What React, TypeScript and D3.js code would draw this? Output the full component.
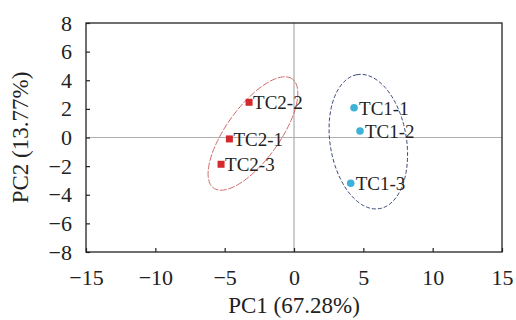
import * as d3 from 'd3'
import { useRef, useEffect } from 'react'

// sample scores (PC1, PC2)
const tc2Names = ['TC2-1', 'TC2-2', 'TC2-3'];
const tc2PC1 = [-4.66, -3.24, -5.26];
const tc2PC2 = [-0.1, 2.46, -1.87];

const tc1Names = ['TC1-1', 'TC1-2', 'TC1-3'];
const tc1PC1 = [4.33, 4.76, 4.09];
const tc1PC2 = [2.08, 0.45, -3.2];

// confidence ellipses: centre, semi-axes (data units), rotation in degrees
const ellipseNames = ['TC2', 'TC1'];
const ellipseCx = [-2.96, 5.36];
const ellipseCy = [0.28, -0.29];
const ellipseA = [4.75, 4.75];
const ellipseB = [1.9, 2.75];
const ellipseAngle = [53, 100];

const xTicks = [-15, -10, -5, 0, 5, 10, 15];
const yTicks = [-8, -6, -4, -2, 0, 2, 4, 6, 8];

const FONT = '"Liberation Serif", "Times New Roman", Times, serif';

function App() {
    const svgRef = useRef<SVGSVGElement>(null);

    useEffect(() => {
        const widthSvg = 516;
        const heightSvg = 320;
        const margins = { left: 86, top: 23, right: 14, bottom: 68 };
        const widthPlot = widthSvg - margins.left - margins.right;
        const heightPlot = heightSvg - margins.top - margins.bottom;

        const svg = d3.select(svgRef.current)
            .attr('width', widthSvg)
            .attr('height', heightSvg);
        svg.selectAll('*').remove();

        const gPlot = svg.append('g')
            .attr('transform', `translate(${margins.left}, ${margins.top})`);

        const scaleX = d3.scaleLinear().domain([-15, 15]).range([0, widthPlot]);
        const scaleY = d3.scaleLinear().domain([-8, 8]).range([heightPlot, 0]);

        // zero lines
        gPlot.append('line')
            .attr('x1', scaleX(0)).attr('x2', scaleX(0))
            .attr('y1', 0).attr('y2', heightPlot)
            .attr('stroke', '#9a9a9a').attr('stroke-width', 1);
        gPlot.append('line')
            .attr('x1', 0).attr('x2', widthPlot)
            .attr('y1', scaleY(0)).attr('y2', scaleY(0))
            .attr('stroke', '#b0b0b0').attr('stroke-width', 1);

        // ellipses
        const ellipseColors = ['#d06a6a', '#3b4a7a'];
        ellipseNames.forEach((name, i) => {
            const rot = ellipseAngle[i] * Math.PI / 180;
            const pts: [number, number][] = d3.range(0, 360, 3).map(deg => {
                const t = deg * Math.PI / 180;
                const ex = ellipseA[i] * Math.cos(t);
                const ey = ellipseB[i] * Math.sin(t);
                const dx = ex * Math.cos(rot) - ey * Math.sin(rot);
                const dy = ex * Math.sin(rot) + ey * Math.cos(rot);
                return [scaleX(ellipseCx[i] + dx), scaleY(ellipseCy[i] + dy)];
            });
            gPlot.append('path')
                .attr('class', `ellipse-${name}`)
                .attr('d', d3.line().curve(d3.curveLinearClosed)(pts))
                .attr('fill', 'none')
                .attr('stroke', ellipseColors[i])
                .attr('stroke-width', 1)
                .attr('stroke-dasharray', i === 0 ? '7,1.5' : '4,2');
        });

        // frame
        gPlot.append('rect')
            .attr('x', 0).attr('y', 0)
            .attr('width', widthPlot).attr('height', heightPlot)
            .attr('fill', 'none')
            .attr('stroke', '#222')
            .attr('stroke-width', 1.3);

        // axes with inward ticks
        const gXAxis = gPlot.append('g')
            .attr('transform', `translate(0, ${heightPlot})`)
            .call(d3.axisBottom(scaleX).tickValues(xTicks).tickSizeInner(-4).tickSizeOuter(0).tickPadding(17));
        const gYAxis = gPlot.append('g')
            .call(d3.axisLeft(scaleY).tickValues(yTicks).tickSizeInner(-4).tickSizeOuter(0).tickPadding(14));
        [gXAxis, gYAxis].forEach(g => {
            g.select('.domain').remove();
            g.selectAll('line').attr('stroke', '#222').attr('stroke-width', 1.2);
            g.selectAll('text')
                .attr('fill', '#222')
                .style('font-family', FONT)
                .style('font-size', '22px');
        });

        // TC2 squares
        tc2Names.forEach((name, i) => {
            const px = scaleX(tc2PC1[i]);
            const py = scaleY(tc2PC2[i]);
            gPlot.append('rect')
                .attr('x', px - 3.5).attr('y', py - 3.5)
                .attr('width', 7).attr('height', 7)
                .attr('fill', '#d3282c');
            gPlot.append('text')
                .attr('x', px + 4).attr('y', py)
                .attr('dy', '0.36em')
                .attr('fill', '#222')
                .style('font-family', FONT)
                .style('font-size', '19px')
                .text(name);
        });

        // TC1 dots
        tc1Names.forEach((name, i) => {
            const px = scaleX(tc1PC1[i]);
            const py = scaleY(tc1PC2[i]);
            gPlot.append('circle')
                .attr('cx', px).attr('cy', py).attr('r', 3.8)
                .attr('fill', '#3cb2d8');
            gPlot.append('text')
                .attr('x', px + 5).attr('y', py)
                .attr('dy', '0.36em')
                .attr('fill', '#222')
                .style('font-family', FONT)
                .style('font-size', '19px')
                .text(name);
        });

        // axis titles
        svg.append('text')
            .attr('x', margins.left + scaleX(0)).attr('y', 313)
            .attr('text-anchor', 'middle')
            .attr('fill', '#222')
            .style('font-family', FONT)
            .style('font-size', '23px')
            .text('PC1 (67.28%)');
        svg.append('text')
            .attr('transform', `translate(28, ${margins.top + scaleY(0)}) rotate(-90)`)
            .attr('text-anchor', 'middle')
            .attr('fill', '#222')
            .style('font-family', FONT)
            .style('font-size', '23px')
            .text('PC2 (13.77%)');
    }, []);

    return (
        <svg ref={svgRef} style={{ position: 'absolute', left: 0, top: 0, background: '#fff' }}></svg>
    )
}

export default App;
